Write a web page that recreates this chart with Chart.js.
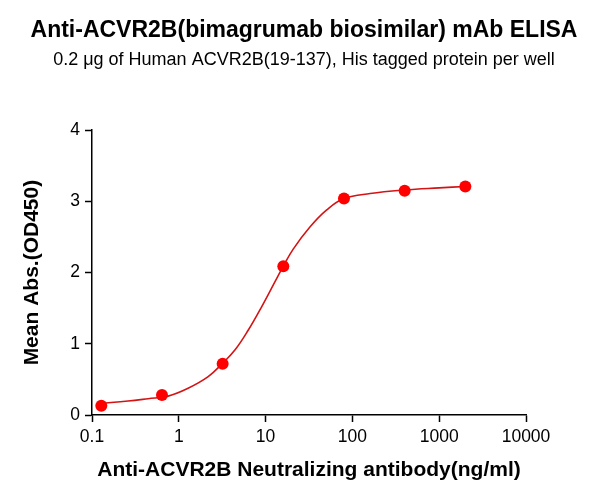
<!DOCTYPE html>
<html>
<head>
<meta charset="utf-8">
<script src="https://cdn.jsdelivr.net/npm/chart.js@4.4.1/dist/chart.umd.min.js"></script>
<style>
  html, body { margin: 0; padding: 0; background: #fff; }
  #wrap { width: 608px; height: 499px; }
</style>
</head>
<body>
<div id="wrap"><canvas id="elisa" width="608" height="499"></canvas></div>
<script>
// measured points (concentration in ng/ml, OD450)
var conc = [0.128, 0.64, 3.2, 16, 80, 400, 2000];
var od = [0.13, 0.28, 0.72, 2.09, 3.04, 3.15, 3.21];

// fitted curve
var curveConc = [0.128, 0.26, 0.443, 0.753, 1.28, 2.18, 3.13, 4.43, 6.3, 9.0, 12.8, 16, 20.8, 32.4, 50.6, 80, 160, 400, 1000, 2000];
var curveOd = [0.165, 0.196, 0.229, 0.265, 0.375, 0.538, 0.716, 0.912, 1.19, 1.52, 1.87, 2.09, 2.33, 2.64, 2.88, 3.04, 3.11, 3.16, 3.19, 3.21];

var xTicks = [0.1, 1, 10, 100, 1000, 10000];
var yTicks = [0, 1, 2, 3, 4];

var pts = [];
for (var i = 0; i < conc.length; i++) {
    pts.push({x: conc[i], y: od[i]});
}
var fit = [];
for (var j = 0; j < curveConc.length; j++) {
    fit.push({x: curveConc[j], y: curveOd[j]});
}

var ctx = document.getElementById('elisa').getContext('2d');
var chart = new Chart(ctx, {
    type: 'scatter',
    data: {
        datasets: [{
            data: pts,
            showLine: false,
            pointRadius: 6,
            pointHoverRadius: 6,
            pointBackgroundColor: '#ff0000',
            pointBorderColor: '#ff0000',
            pointBorderWidth: 0,
            order: 0
        }, {
            data: fit,
            showLine: true,
            fill: false,
            pointRadius: 0,
            borderColor: '#d41414',
            borderWidth: 1.6,
            tension: 0.4,
            order: 1
        }]
    },
    options: {
        responsive: false,
        animation: false,
        layout: { padding: 0 },
        plugins: {
            legend: { display: false },
            tooltip: { enabled: false },
            title: {
                display: true,
                text: 'Anti-ACVR2B(bimagrumab biosimilar) mAb ELISA',
                color: '#000',
                font: { family: 'Liberation Sans', size: 23, weight: 'bold' },
                padding: { top: 17, bottom: 3 }
            },
            subtitle: {
                display: true,
                text: '0.2 \u03bcg of Human ACVR2B(19-137), His tagged protein per well',
                color: '#000',
                font: { family: 'Liberation Sans', size: 18 },
                padding: { top: 2, bottom: 59 }
            }
        },
        scales: {
            x: {
                type: 'logarithmic',
                min: 0.1,
                max: 10000,
                afterBuildTicks: function(scale) {
                    scale.ticks = xTicks.map(function(v){ return {value: v}; });
                },
                afterFit: function(scale) { scale.height = 84; },
                ticks: {
                    color: '#000',
                    font: { family: 'Liberation Sans', size: 17.5 },
                    padding: 5,
                    maxRotation: 0,
                    autoSkip: false,
                    callback: function(v) { return String(v); }
                },
                grid: { drawOnChartArea: false, drawTicks: true, tickLength: 7, tickColor: '#000', tickWidth: 1.5 },
                border: { display: true, color: '#000', width: 1.5 },
                title: {
                    display: true,
                    text: 'Anti-ACVR2B Neutralizing antibody(ng/ml)',
                    color: '#000',
                    font: { family: 'Liberation Sans', size: 21, weight: 'bold' },
                    padding: { top: 0, bottom: 16 }
                }
            },
            y: {
                min: 0,
                max: 4,
                afterBuildTicks: function(scale) {
                    scale.ticks = yTicks.map(function(v){ return {value: v}; });
                },
                afterFit: function(scale) { scale.width = 92; },
                ticks: {
                    color: '#000',
                    font: { family: 'Liberation Sans', size: 17.5 },
                    padding: 5
                },
                grid: { drawOnChartArea: false, drawTicks: true, tickLength: 7, tickColor: '#000', tickWidth: 1.5 },
                border: { display: true, color: '#000', width: 1.5 },
                title: {
                    display: true,
                    text: 'Mean Abs.(OD450)',
                    color: '#000',
                    font: { family: 'Liberation Sans', size: 21, weight: 'bold' },
                    padding: { top: 20, bottom: 0 }
                }
            },
            // empty right margin so the titles centre on the whole picture
            yRight: {
                position: 'right',
                min: 0,
                max: 4,
                afterFit: function(scale) { scale.width = 82; },
                ticks: { display: false },
                grid: { display: false },
                border: { display: false }
            }
        }
    }
});
</script>
</body>
</html>
